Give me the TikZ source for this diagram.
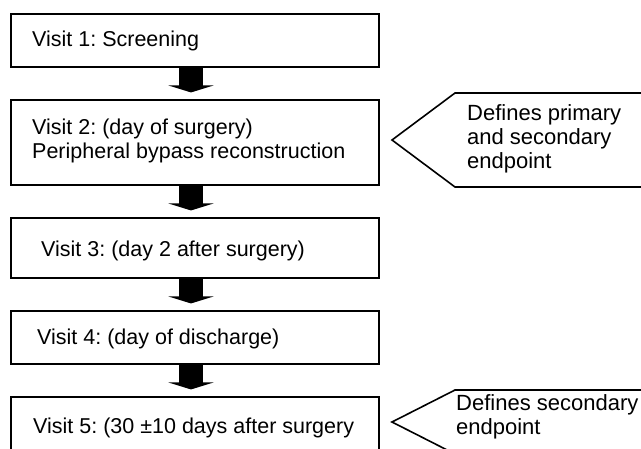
\documentclass[tikz,border=0pt]{standalone}
\usepackage{fontspec}
\setmainfont{Liberation Sans}
\usetikzlibrary{arrows.meta}
\frenchspacing
\begin{document}
\frenchspacing
\begin{tikzpicture}[x=1pt,y=-1pt,
  visitbox/.style={draw=black, line width=1.1pt, minimum width=368pt, inner sep=0pt},
  visittext/.style={anchor=west, inner sep=0pt, align=left, font=\fontsize{21.5}{24}\selectfont\frenchspacing},
  calltext/.style={anchor=west, inner sep=0pt, align=left, font=\fontsize{22}{24}\selectfont\frenchspacing},
  callout/.style={draw=black, line width=1.6pt, line join=miter},
  blockarrow/.style={line width=24pt, -{Triangle[width=45pt,length=7pt]}, shorten >=7pt}
]
\useasboundingbox (0,0) rectangle (641,448);
\clip (0,0) rectangle (641,448);
\fill[white] (0,0) rectangle (641,448);

\node[visitbox, minimum height=53pt] (b1) at (195,40.5) {};
\node[visitbox, minimum height=85pt] (b2) at (195,142.5) {};
\node[visitbox, minimum height=60pt] (b3) at (195,248) {};
\node[visitbox, minimum height=53pt] (b4) at (195,337.5) {};
\node[visitbox, minimum height=70pt] (b5) at (195,432) {};

\node[visittext] (t1) at (32,40.5) {Visit 1: Screening};
\node[visittext] (t2) at (32,141) {Visit 2: (day of surgery)\\Peripheral bypass reconstruction};
\node[visittext] (t3) at (41,251) {Visit 3: (day 2 after surgery)};
\node[visittext] (t4) at (37,339) {Visit 4: (day of discharge)};
\node[visittext] (t5) at (33,428) {Visit 5: (30 \textpm10 days after surgery};

\draw[blockarrow] ([xshift=-4pt]b1.south) -- ([xshift=-4pt]b2.north);
\draw[blockarrow] ([xshift=-4pt]b2.south) -- ([xshift=-4pt]b3.north);
\draw[blockarrow] ([xshift=-4pt]b3.south) -- ([xshift=-4pt]b4.north);
\draw[blockarrow] ([xshift=-4pt]b4.south) -- ([xshift=-4pt]b5.north);

\draw[callout] (392,140) -- (455,93) -- (660,93) -- (660,187) -- (455,187) -- cycle;
\node[calltext] (c1) at (467,139) {Defines primary\\and secondary\\endpoint};

\draw[callout] (392,422) -- (455,390) -- (660,390) -- (660,454) -- (455,454) -- cycle;
\node[calltext] (c2) at (456,417) {Defines secondary\\endpoint};
\end{tikzpicture}
\end{document}
